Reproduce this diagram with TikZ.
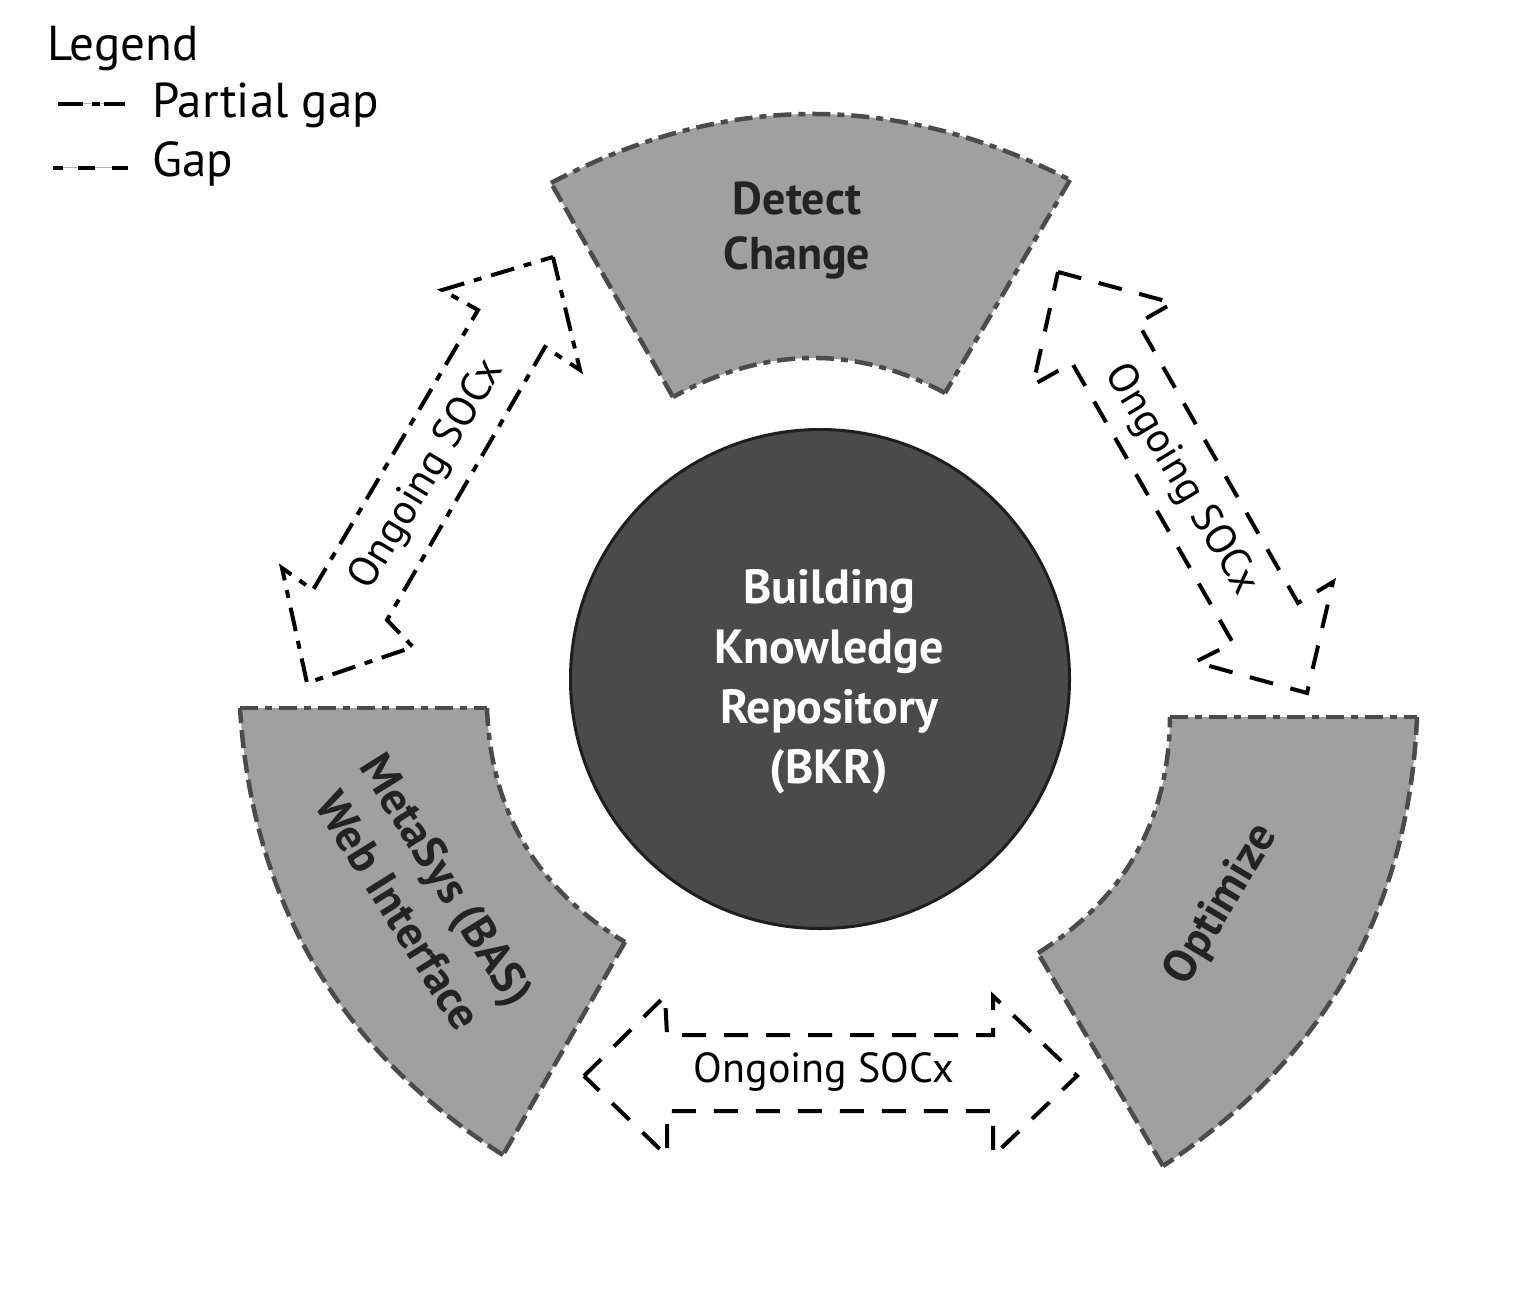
\documentclass[tikz,border=0pt]{standalone}
\usepackage{fontspec}
\setmainfont{PT Sans}
\definecolor{secgray}{RGB}{160,160,160}
\definecolor{edgegray}{RGB}{75,75,75}
\definecolor{bkrfill}{RGB}{74,74,74}
\definecolor{bkredge}{RGB}{30,30,30}
\definecolor{labelgray}{RGB}{35,35,35}
\begin{document}
\begin{tikzpicture}[x=1pt,y=-1pt,
  edgedash/.style={draw=edgegray, line width=4.5pt, dash pattern=on 18pt off 7pt},
  edgedashdot/.style={draw=edgegray, line width=4.5pt, dash pattern=on 18pt off 7pt on 7pt off 7pt},
  gaparrow/.style={draw=black, line width=4pt, dash pattern=on 24pt off 18pt, line join=miter},
  partialarrow/.style={draw=black, line width=4pt, dash pattern=on 24pt off 10pt on 8pt off 10pt, line join=miter},
  lbl/.style={font=\fontsize{46}{55}\selectfont\bfseries, text=labelgray, inner sep=0pt},
  bkrtext/.style={font=\fontsize{48}{60}\selectfont\bfseries, text=white, inner sep=0pt},
  socx/.style={font=\fontsize{42}{50}\selectfont, text=black, inner sep=0pt},
  legtext/.style={font=\fontsize{49}{58}\selectfont, text=black, inner sep=0pt},
]
\useasboundingbox (0,0) rectangle (1534,1305);
\fill[white] (0,0) rectangle (1534,1305);

% ---------- Legend ----------
\node[legtext, anchor=base west] (legend) at (47,61) {Legend};
\node[legtext, anchor=base west] (lpartial) at (152,118) {Partial gap};
\node[legtext, anchor=base west] (lgap) at (152,177) {Gap};
\coordinate (pg1) at (58,104);
\coordinate (pg2) at (125,104);
\coordinate (g1) at (53,168);
\coordinate (g2) at (128,168);
\draw[gray!60, line width=1pt] (pg1) -- (pg2);
\draw[gray!60, line width=1pt] (g1) -- (g2);
\draw[line width=4pt] (58,104) -- (83,104) (92,104) -- (100,104) (104,104) -- (125,104);
\draw[line width=4pt] (53,168) -- (63,168) (78,168) -- (95,168) (112,168) -- (128,168);

% ---------- Detect Change sector ----------
\fill[secgray] (551,183) .. controls (723.3,92) and (896.3,91) .. (1070,180)
  -- (945,393) .. controls (855.7,345) and (765,346.3) .. (673,397) -- cycle;
\draw[edgedashdot] (551,183) .. controls (723.3,92) and (896.3,91) .. (1070,180);
\draw[edgedashdot] (1070,180) -- (945,393);
\draw[edgedashdot] (945,393) .. controls (855.7,345) and (765,346.3) .. (673,397);
\draw[edgedash] (673,397) -- (551,183);
\node[lbl, anchor=base] (detect1) at (797,215) {Detect};
\node[lbl, anchor=base] (detect2) at (797,270) {Change};

% ---------- MetaSys sector ----------
\fill[secgray] (240,708) -- (487,708) .. controls (490.6,811.1) and (536.6,889.1) .. (625,942)
  -- (503,1155) .. controls (339.6,1050.7) and (251.9,901.7) .. (240,708) -- cycle;
\draw[edgedashdot] (240,708) -- (487,708);
\draw[edgedashdot] (487,708) .. controls (490.6,811.1) and (536.6,889.1) .. (625,942);
\draw[edgedash] (625,942) -- (503,1155);
\draw[edgedash] (503,1155) .. controls (339.6,1050.7) and (251.9,901.7) .. (240,708);
\node[lbl, align=center, rotate=-58, font=\fontsize{46}{58}\selectfont\bfseries] (metasys) at (423,895) {MetaSys (BAS)\\Web Interface};

% ---------- Optimize sector ----------
\fill[secgray] (1170,717) -- (1417,717) .. controls (1408.9,909.9) and (1324.2,1059.6) .. (1163,1166)
  -- (1038,953) .. controls (1125.1,898.5) and (1169.1,819.8) .. (1170,717) -- cycle;
\draw[edgedashdot] (1170,717) -- (1417,717);
\draw[edgedash] (1417,717) .. controls (1408.9,909.9) and (1324.2,1059.6) .. (1163,1166);
\draw[edgedash] (1163,1166) -- (1038,953);
\draw[edgedashdot] (1038,953) .. controls (1125.1,898.5) and (1169.1,819.8) .. (1170,717);
\node[lbl, rotate=59] (optimize) at (1222,905) {Optimize};

% ---------- BKR circle ----------
\node[circle, draw=bkredge, fill=bkrfill, line width=3pt, minimum size=499pt, inner sep=0pt] (bkr) at (820,679) {};
\node[bkrtext, anchor=base] (b1) at (829,603) {Building};
\node[bkrtext, anchor=base] (b2) at (829,663) {Knowledge};
\node[bkrtext, anchor=base] (b3) at (829,723) {Repository};
\node[bkrtext, anchor=base] (b4) at (829,783) {(BKR)};

% ---------- Left arrow (partial gap) ----------
\draw[partialarrow] (553,257) -- (580,370) -- (545,347) -- (387,620) -- (413,647)
  -- (307,683) -- (282,568) -- (313,590) -- (478,310) -- (442,290) -- cycle;
\node[socx, rotate=59] (socxleft) at (428,475) {Ongoing SOCx};

% ---------- Right arrow (gap) ----------
\draw[gaparrow] (1058,272) -- (1173,303) -- (1138,323) -- (1298,603) -- (1333,582)
  -- (1307,693) -- (1195,662) -- (1233,643) -- (1072,363) -- (1033,385) -- cycle;
\node[socx, rotate=-59] (socxright) at (1181,480) {Ongoing SOCx};

% ---------- Bottom arrow (gap) ----------
\draw[gaparrow] (584,1076) -- (665,996) -- (667,1035) -- (993,1035) -- (993,996)
  -- (1077,1076) -- (993,1156) -- (993,1111) -- (667,1111) -- (667,1156) -- cycle;
\node[socx] (socxbottom) at (824,1072) {Ongoing SOCx};

\end{tikzpicture}
\end{document}
